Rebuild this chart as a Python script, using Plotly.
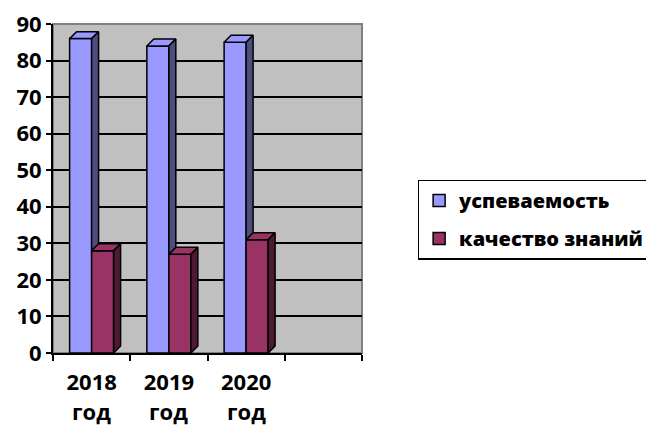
import plotly.graph_objects as go

years = ["2018", "2019", "2020"]
year_suffix = "год"
uspevaemost = [86, 84, 85]
kachestvo = [28, 27, 31]
series_names = ["успеваемость", "качество знаний"]

FONT = "Open Sans"
W = 0.285    # bar width in category units
DX = 0.09    # 3D depth, x (category units)
DY = 1.9     # 3D depth, y (value units)

BLUE, BLUE_SIDE = "#9999FF", "#4D4D80"
RED, RED_SIDE = "#993366", "#4D1A33"

categories = years + [" "]
fig = go.Figure()

# front faces (real bars)
fig.add_trace(go.Bar(x=years, y=uspevaemost, offset=-W, width=W, name=series_names[0],
                     legendgroup="a", marker=dict(color=BLUE, line=dict(color="black", width=1.5))))
fig.add_trace(go.Bar(x=years, y=kachestvo, offset=0, width=W, name=series_names[1],
                     legendgroup="b", marker=dict(color=RED, line=dict(color="black", width=1.5))))

# 3D top / side faces derived from the same values
def poly(points_list):
    xs, ys = [], []
    for pts in points_list:
        for px, py in pts:
            xs.append(px); ys.append(py)
        xs.append(pts[0][0]); ys.append(pts[0][1])
        xs.append(None); ys.append(None)
    return xs, ys

def face_trace(points_list, color):
    xs, ys = poly(points_list)
    return go.Scatter(x=xs, y=ys, xaxis="x2", yaxis="y", mode="lines", fill="toself",
                      fillcolor=color, line=dict(color="black", width=1.5),
                      showlegend=False, hoverinfo="skip")

blue_top, blue_side, red_top, red_side = [], [], [], []
for i, (bv, rv) in enumerate(zip(uspevaemost, kachestvo)):
    xl, xr = i - W, i
    blue_top.append([(xl, bv), (xr, bv), (xr + DX, bv + DY), (xl + DX, bv + DY)])
    blue_side.append([(xr, rv), (xr, bv), (xr + DX, bv + DY), (xr + DX, rv)])
    xl2, xr2 = i, i + W
    red_top.append([(xl2, rv), (xr2, rv), (xr2 + DX, rv + DY), (xl2 + DX, rv + DY)])
    red_side.append([(xr2, 0), (xr2, rv), (xr2 + DX, rv + DY), (xr2 + DX, DY)])

fig.add_trace(face_trace(blue_top, BLUE))
fig.add_trace(face_trace(blue_side, BLUE_SIDE))
fig.add_trace(face_trace(red_top, RED))
fig.add_trace(face_trace(red_side, RED_SIDE))

annotations = [
    dict(x=i, y=0, xref="x", yref="paper", text=year_suffix,
         showarrow=False, yanchor="middle", yshift=-58,
         font=dict(family=FONT, size=22, color="black", weight="bold"))
    for i, _ in enumerate(years)
]

fig.update_layout(
    width=654, height=430,
    barmode="overlay",
    paper_bgcolor="white",
    plot_bgcolor="#C0C0C0",
    margin=dict(l=45, r=295, t=16, b=85),
    font=dict(family=FONT, size=18, color="black"),
    legend=dict(
        x=1.18, y=0.527, xanchor="left", yanchor="top",
        bordercolor="black", borderwidth=1.5,
        font=dict(family=FONT, size=20, color="black", weight=800),
        traceorder="grouped", tracegroupgap=9,
        itemwidth=30, entrywidth=205,
    ),
    xaxis=dict(
        type="category", categoryorder="array", categoryarray=categories,
        range=[-0.5, 3.5], showgrid=False, automargin=False,
        showline=True, linecolor="black", linewidth=2,
        ticks="outside", tickson="boundaries", ticklen=6, tickcolor="black", tickwidth=2,
        tickfont=dict(family=FONT, size=22, color="black", weight="bold"),
        ticklabelstandoff=9, ticklabeloverflow="allow",
        mirror=False,
    ),
    xaxis2=dict(overlaying="x", range=[-0.5, 3.5], visible=False, automargin=False),
    yaxis=dict(
        range=[0, 90], dtick=10, showgrid=True, gridcolor="black", gridwidth=2,
        showline=True, linecolor="black", linewidth=2, automargin=False,
        ticks="outside", ticklen=5, tickcolor="black", tickwidth=2,
        tickfont=dict(family=FONT, size=22, color="black", weight="bold"),
        ticklabeloverflow="allow",
        zeroline=False,
    ),
    annotations=annotations,
    shapes=[dict(type="rect", xref="paper", yref="paper", x0=0, x1=1, y0=0, y1=1,
                 line=dict(color="#808080", width=2), layer="below")],
)

fig.write_html("out.html")
